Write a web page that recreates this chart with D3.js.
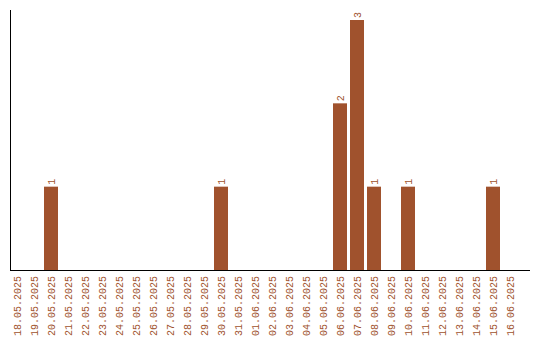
<!DOCTYPE html>
<html>
<head>
<meta charset="utf-8">
<script src="https://cdn.jsdelivr.net/npm/d3@7"></script>
<style>
  body { margin: 0; background: #fff; }
  text { font-family: "Liberation Mono", monospace; }
</style>
</head>
<body>
<div class="bar-chart-container"></div>
<script>
const days = ["18.05.2025", "19.05.2025", "20.05.2025", "21.05.2025", "22.05.2025",
    "23.05.2025", "24.05.2025", "25.05.2025", "26.05.2025", "27.05.2025",
    "28.05.2025", "29.05.2025", "30.05.2025", "31.05.2025", "01.06.2025",
    "02.06.2025", "03.06.2025", "04.06.2025", "05.06.2025", "06.06.2025",
    "07.06.2025", "08.06.2025", "09.06.2025", "10.06.2025", "11.06.2025",
    "12.06.2025", "13.06.2025", "14.06.2025", "15.06.2025", "16.06.2025"];
const counts = [0, 0, 1, 0, 0, 0, 0, 0, 0, 0, 0, 0, 1, 0, 0,
    0, 0, 0, 0, 2, 3, 1, 0, 1, 0, 0, 0, 0, 1, 0];

const width = 540;
const height = 340;
const plotLeft = 10, plotTop = 10, plotBottom = 270, plotRight = 530;
const color = "#a0522d";

let svg = d3.select(".bar-chart-container").append("svg")
    .attr("width", width)
    .attr("height", height);

let data = days.map((d, i) => ({ day: d, count: counts[i] }));

// 17px per day, 14px bars
let xScale = d3.scaleBand()
    .domain(days)
    .range([plotLeft, plotLeft + days.length * 17 - 3])
    .paddingInner(3 / 17)
    .paddingOuter(0);

let yScale = d3.scaleLinear()
    .domain([0, d3.max(counts) * 1.04])
    .range([plotBottom, plotTop]);

// bars
svg.selectAll("rect")
    .data(data.filter(d => d.count > 0))
    .enter()
    .append("rect")
    .attr("x", d => xScale(d.day))
    .attr("y", d => yScale(d.count))
    .attr("width", xScale.bandwidth())
    .attr("height", d => yScale(0) - yScale(d.count))
    .attr("fill", color);

// value labels
svg.selectAll(".value")
    .data(data.filter(d => d.count > 0))
    .enter()
    .append("text")
    .attr("class", "value")
    .attr("transform", d => "translate(" + (xScale(d.day) + xScale.bandwidth() / 2) + "," + (yScale(d.count) - 2) + ") rotate(-90)")
    .attr("dy", "0.35em")
    .attr("font-size", 10)
    .attr("fill", color)
    .text(d => d.count);

// axes lines
svg.append("line")
    .attr("x1", plotLeft + 0.5).attr("x2", plotLeft + 0.5)
    .attr("y1", plotTop).attr("y2", plotBottom)
    .attr("stroke", "#000");
svg.append("line")
    .attr("x1", plotLeft).attr("x2", plotRight)
    .attr("y1", plotBottom + 0.5).attr("y2", plotBottom + 0.5)
    .attr("stroke", "#000");

// day labels
let xAxis = d3.axisBottom(xScale).tickSize(0).tickPadding(0);
let gx = svg.append("g")
    .attr("transform", "translate(0," + plotBottom + ")")
    .call(xAxis);
gx.select(".domain").remove();
gx.selectAll("text")
    .attr("font-family", "Liberation Mono, monospace")
    .attr("font-size", 10)
    .attr("fill", color)
    .attr("text-anchor", "end")
    .attr("transform", "rotate(-90)")
    .attr("x", -6)
    .attr("y", 0)
    .attr("dy", "0.35em");
</script>
</body>
</html>
